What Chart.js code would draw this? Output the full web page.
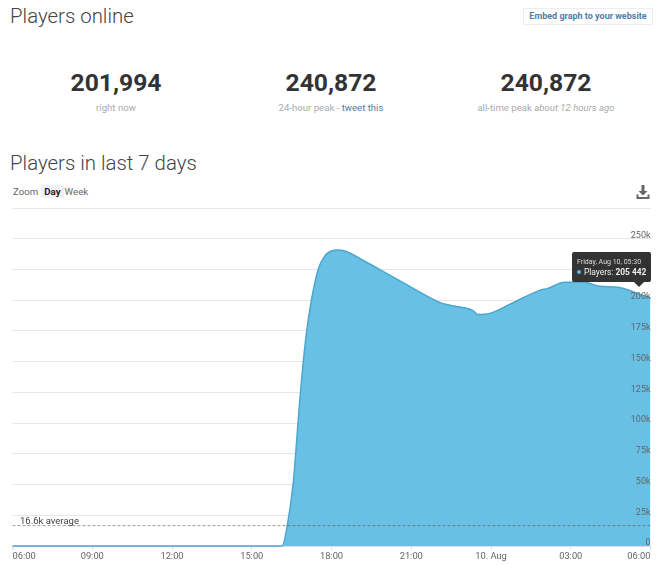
<!DOCTYPE html>
<html>
<head>
<meta charset="utf-8">
<title>Players online</title>
<script src="https://cdn.jsdelivr.net/npm/chart.js@4"></script>
<style>
  html, body { margin: 0; padding: 0; background: #fff; }
  body { width: 660px; height: 566px; position: relative; overflow: hidden; font-family: Roboto, sans-serif; }
  .abs { position: absolute; white-space: nowrap; }
  h2 { margin: 0; font-weight: 300; font-size: 20.4px; color: #444; line-height: 26px; }
  .embed { left: 523px; top: 8px; width: 130px; height: 17px; box-sizing: border-box; border: 1px solid #eaeef2; text-align: center; font-size: 9px; font-weight: 700; color: #4f7ea8; line-height: 15px; }
  .stat { width: 220px; text-align: center; }
  .num { font-size: 24.7px; font-weight: 700; color: #333; line-height: 30px; }
  .cap { font-size: 9.6px; color: #aaa; line-height: 14px; margin-top: 3px; }
  .cap a { color: #4f7ea8; }
  .zoomrow { left: 13px; top: 185px; font-size: 9.7px; color: #666; line-height: 13px; }
  .zoomrow b { display: inline-block; background: #eef1f8; color: #222; padding: 0 3px; margin: 0 1px 0 3px; }
  #chart { position: absolute; left: 0; top: 200px; }
  #tip { position: absolute; background: rgba(40,40,40,0.95); color: #fff; border-radius: 2px; padding: 5px 5px 4px 5px; box-sizing: border-box; width: 79px; height: 30px; white-space: nowrap; display: none; }
  #tip .t { font-size: 7px; color: #ddd; line-height: 10px; }
  #tip .l { font-size: 8.4px; line-height: 11px; color: #eee; }
  #tip .l i { display: inline-block; width: 4px; height: 4px; border-radius: 50%; background: #5bb8df; margin-right: 3px; vertical-align: 1px; }
  #tip:after { content: ""; position: absolute; left: var(--caret); bottom: -5px; margin-left: -5px; border-left: 5px solid transparent; border-right: 5px solid transparent; border-top: 5px solid rgba(40,40,40,0.95); }
</style>
</head>
<body>
<h2 class="abs" style="left:10px;top:3px">Players online</h2>
<div class="abs embed">Embed graph to your website</div>

<div class="abs stat" style="left:6px;top:68px"><div class="num">201,994</div><div class="cap">right now</div></div>
<div class="abs stat" style="left:221px;top:68px"><div class="num">240,872</div><div class="cap">24-hour peak - <a>tweet this</a></div></div>
<div class="abs stat" style="left:436px;top:68px"><div class="num">240,872</div><div class="cap">all-time peak <em>about 12 hours ago</em></div></div>

<h2 class="abs" style="left:10px;top:150px">Players in last 7 days</h2>
<div class="abs zoomrow">Zoom<b>Day</b>Week</div>
<svg class="abs" style="left:636px;top:185px" width="14" height="14" viewBox="0 0 14 14">
  <path d="M5.5 0h3v6h3L7 10.5 2.5 6h3z M0.5 9.5h2v2.5h9V9.5h2V14h-13z" fill="#666"/>
</svg>

<canvas id="chart" width="660" height="366"></canvas>
<div id="tip"></div>

<script>
// hours since 06:00 on Aug 9
var hours = [0, 3, 6, 9, 10.14, 10.33, 10.56, 10.81, 11, 11.18, 11.5, 11.75, 11.97, 12.24, 12.5, 13.25, 14, 14.94, 16.07, 16.45, 17.31, 17.5, 17.95, 18.7, 19.83, 20.13, 20.77, 21.52, 22.09, 22.84, 23.5, 24];
var players = [0, 0, 0, 0, 0, 15700, 51400, 119100, 162600, 191700, 225100, 236000, 239800, 240872, 240000, 231700, 222700, 211300, 198200, 195800, 191700, 188400, 189200, 196600, 208000, 209600, 214500, 214500, 211300, 210400, 205442, 201994];
var xTickLabels = ['06:00', '09:00', '12:00', '15:00', '18:00', '21:00', '10. Aug', '03:00', '06:00'];
var yTickLabels = ['0', '25k', '50k', '75k', '100k', '125k', '150k', '175k', '200k', '225k', '250k', ''];
var average = 16600;
var averageLabel = '16.6k average';
var hoverIndex = 30;
var hoverTitle = 'Friday, Aug 10, 05:30';

var avgLabelPlugin = {
  id: 'avgLabel',
  afterDatasetsDraw: function (chart) {
    var ctx = chart.ctx;
    ctx.save();
    ctx.font = '9.5px Roboto';
    ctx.fillStyle = '#444';
    ctx.textBaseline = 'bottom';
    ctx.fillText(averageLabel, 20, chart.scales.y.getPixelForValue(average) + 1);
    ctx.restore();
  }
};

function drawTip(context) {
  var tip = document.getElementById('tip');
  var t = context.tooltip;
  if (!t.dataPoints || !t.dataPoints.length) { tip.style.display = 'none'; return; }
  var value = t.dataPoints[0].parsed.y.toLocaleString('en-US').replace(/,/g, ' ');
  tip.innerHTML = '<div class="t">' + hoverTitle + '</div><div class="l"><i></i>Players: <b>' + value + '</b></div>';
  var left = Math.min(t.caretX - 40, 572);
  tip.style.display = 'block';
  tip.style.left = left + 'px';
  tip.style.top = (200 + t.caretY - 41) + 'px';
  tip.style.setProperty('--caret', (t.caretX + 2 - left) + 'px');
}

var chart = new Chart(document.getElementById('chart').getContext('2d'), {
  type: 'line',
  data: {
    datasets: [{
      data: hours.map(function (h, i) { return { x: h, y: players[i] }; }),
      borderColor: '#4ea6cd',
      backgroundColor: '#69c0e5',
      borderWidth: 1.5,
      fill: 'origin',
      pointRadius: 0,
      cubicInterpolationMode: 'monotone',
      clip: 2,
      order: 2
    }, {
      data: [{ x: 0, y: average }, { x: 24, y: average }],
      borderColor: 'rgba(90,90,90,0.6)',
      borderWidth: 1,
      borderDash: [3, 2],
      pointRadius: 0,
      fill: false,
      order: 1
    }]
  },
  options: {
    responsive: false,
    animation: false,
    events: [],
    layout: { padding: { left: 12.5, right: 9.5, top: 8, bottom: 0 } },
    plugins: {
      legend: { display: false },
      tooltip: { enabled: false, external: drawTip, filter: function (item) { return item.datasetIndex === 0; } }
    },
    scales: {
      x: {
        type: 'linear',
        min: 0,
        max: 24,
        afterFit: function (scale) { scale.height = 20; },
        grid: { drawOnChartArea: false, tickLength: 4, color: '#ddd' },
        border: { color: '#ddd' },
        ticks: {
          stepSize: 3,
          autoSkip: false,
          maxRotation: 0,
          align: 'inner',
          padding: 1,
          color: '#666',
          font: { family: 'Roboto', size: 9.3 },
          callback: function (v) { return xTickLabels[v / 3]; }
        }
      },
      y: {
        position: 'right',
        min: 0,
        max: 275000,
        afterFit: function (scale) { scale.width = 0; },
        grid: { color: '#e6e6e6', drawTicks: false },
        border: { display: false },
        ticks: {
          stepSize: 25000,
          mirror: true,
          padding: 0,
          z: 1,
          labelOffset: -3,
          color: '#666',
          font: { family: 'Roboto', size: 9 },
          callback: function (v) { return yTickLabels[v / 25000]; }
        }
      }
    }
  },
  plugins: [avgLabelPlugin]
});

chart.tooltip.setActiveElements([{ datasetIndex: 0, index: hoverIndex }], { x: 0, y: 0 });
chart.update('none');
</script>
</body>
</html>
